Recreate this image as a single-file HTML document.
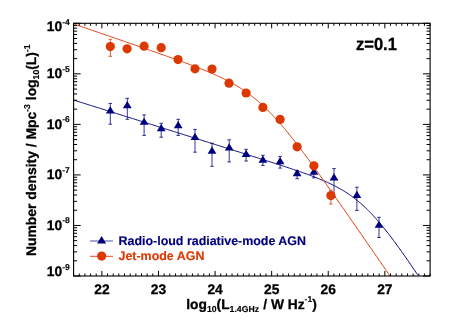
<!DOCTYPE html>
<html><head><meta charset="utf-8"><title>plot</title><style>html,body{margin:0;padding:0;background:#fff}svg text{stroke-width:0.3px;stroke-linejoin:round}svg text.k{stroke:#000}svg text.b{stroke:#00007f;stroke-width:.15px}svg text.o{stroke:#dc3802;stroke-width:.15px}svg text tspan[font-size]{stroke-width:.15px}body{width:452px;height:323px;overflow:hidden}</style></head><body>
<div style="will-change:transform;width:452px;height:323px">
<svg width="452" height="323" viewBox="0 0 452 323" style="display:block;font-family:'Liberation Sans',sans-serif;font-weight:bold;text-rendering:geometricPrecision">
<clipPath id="c"><rect x="73.60" y="23.30" width="356.50" height="252.70"/></clipPath>
<g clip-path="url(#c)">
<polyline fill="none" stroke="#00007f" stroke-width="1" points="73.60,100.05 74.49,100.33 75.39,100.61 76.28,100.89 77.17,101.17 78.07,101.45 78.96,101.73 79.85,102.02 80.75,102.30 81.64,102.58 82.53,102.86 83.43,103.14 84.32,103.42 85.22,103.70 86.11,103.98 87.00,104.26 87.90,104.54 88.79,104.82 89.68,105.10 90.58,105.38 91.47,105.66 92.36,105.94 93.26,106.22 94.15,106.50 95.04,106.78 95.94,107.06 96.83,107.34 97.72,107.62 98.62,107.90 99.51,108.18 100.40,108.47 101.30,108.75 102.19,109.03 103.08,109.31 103.98,109.59 104.87,109.87 105.77,110.15 106.66,110.43 107.55,110.71 108.45,110.99 109.34,111.27 110.23,111.55 111.13,111.83 112.02,112.11 112.91,112.39 113.81,112.67 114.70,112.95 115.59,113.23 116.49,113.51 117.38,113.79 118.27,114.07 119.17,114.35 120.06,114.63 120.95,114.92 121.85,115.20 122.74,115.48 123.64,115.76 124.53,116.04 125.42,116.32 126.32,116.60 127.21,116.88 128.10,117.16 129.00,117.44 129.89,117.72 130.78,118.00 131.68,118.28 132.57,118.56 133.46,118.84 134.36,119.12 135.25,119.40 136.14,119.68 137.04,119.96 137.93,120.24 138.82,120.52 139.72,120.80 140.61,121.08 141.50,121.36 142.40,121.65 143.29,121.93 144.19,122.21 145.08,122.49 145.97,122.77 146.87,123.05 147.76,123.33 148.65,123.61 149.55,123.89 150.44,124.17 151.33,124.45 152.23,124.73 153.12,125.01 154.01,125.29 154.91,125.57 155.80,125.85 156.69,126.13 157.59,126.41 158.48,126.69 159.37,126.97 160.27,127.25 161.16,127.53 162.05,127.82 162.95,128.10 163.84,128.38 164.74,128.66 165.63,128.94 166.52,129.22 167.42,129.50 168.31,129.78 169.20,130.06 170.10,130.34 170.99,130.62 171.88,130.90 172.78,131.18 173.67,131.46 174.56,131.74 175.46,132.02 176.35,132.30 177.24,132.58 178.14,132.86 179.03,133.14 179.92,133.42 180.82,133.70 181.71,133.99 182.61,134.27 183.50,134.55 184.39,134.83 185.29,135.11 186.18,135.39 187.07,135.67 187.97,135.95 188.86,136.23 189.75,136.51 190.65,136.79 191.54,137.07 192.43,137.35 193.33,137.63 194.22,137.91 195.11,138.19 196.01,138.47 196.90,138.75 197.79,139.03 198.69,139.31 199.58,139.60 200.47,139.88 201.37,140.16 202.26,140.44 203.16,140.72 204.05,141.00 204.94,141.28 205.84,141.56 206.73,141.84 207.62,142.12 208.52,142.40 209.41,142.68 210.30,142.96 211.20,143.24 212.09,143.52 212.98,143.80 213.88,144.08 214.77,144.37 215.66,144.65 216.56,144.93 217.45,145.21 218.34,145.49 219.24,145.77 220.13,146.05 221.02,146.33 221.92,146.61 222.81,146.89 223.71,147.17 224.60,147.45 225.49,147.73 226.39,148.02 227.28,148.30 228.17,148.58 229.07,148.86 229.96,149.14 230.85,149.42 231.75,149.70 232.64,149.98 233.53,150.26 234.43,150.55 235.32,150.83 236.21,151.11 237.11,151.39 238.00,151.67 238.89,151.95 239.79,152.23 240.68,152.51 241.57,152.80 242.47,153.08 243.36,153.36 244.26,153.64 245.15,153.92 246.04,154.21 246.94,154.49 247.83,154.77 248.72,155.05 249.62,155.33 250.51,155.62 251.40,155.90 252.30,156.18 253.19,156.46 254.08,156.75 254.98,157.03 255.87,157.31 256.76,157.59 257.66,157.88 258.55,158.16 259.44,158.44 260.34,158.73 261.23,159.01 262.13,159.30 263.02,159.58 263.91,159.86 264.81,160.15 265.70,160.43 266.59,160.72 267.49,161.00 268.38,161.29 269.27,161.58 270.17,161.86 271.06,162.15 271.95,162.43 272.85,162.72 273.74,163.01 274.63,163.30 275.53,163.58 276.42,163.87 277.31,164.16 278.21,164.45 279.10,164.74 279.99,165.03 280.89,165.32 281.78,165.61 282.68,165.90 283.57,166.19 284.46,166.49 285.36,166.78 286.25,167.07 287.14,167.37 288.04,167.66 288.93,167.96 289.82,168.26 290.72,168.55 291.61,168.85 292.50,169.15 293.40,169.45 294.29,169.76 295.18,170.06 296.08,170.36 296.97,170.67 297.86,170.97 298.76,171.28 299.65,171.59 300.54,171.90 301.44,172.21 302.33,172.52 303.23,172.84 304.12,173.15 305.01,173.47 305.91,173.79 306.80,174.11 307.69,174.44 308.59,174.76 309.48,175.09 310.37,175.42 311.27,175.76 312.16,176.09 313.05,176.43 313.95,176.77 314.84,177.12 315.73,177.47 316.63,177.82 317.52,178.17 318.41,178.53 319.31,178.89 320.20,179.25 321.09,179.62 321.99,180.00 322.88,180.37 323.78,180.75 324.67,181.14 325.56,181.53 326.46,181.93 327.35,182.33 328.24,182.74 329.14,183.15 330.03,183.57 330.92,184.00 331.82,184.43 332.71,184.87 333.60,185.31 334.50,185.76 335.39,186.22 336.28,186.69 337.18,187.17 338.07,187.65 338.96,188.14 339.86,188.64 340.75,189.15 341.65,189.67 342.54,190.20 343.43,190.74 344.33,191.28 345.22,191.84 346.11,192.41 347.01,192.99 347.90,193.58 348.79,194.18 349.69,194.79 350.58,195.42 351.47,196.05 352.37,196.70 353.26,197.36 354.15,198.04 355.05,198.72 355.94,199.42 356.83,200.13 357.73,200.86 358.62,201.60 359.51,202.35 360.41,203.12 361.30,203.89 362.20,204.69 363.09,205.49 363.98,206.31 364.88,207.15 365.77,207.99 366.66,208.85 367.56,209.73 368.45,210.62 369.34,211.52 370.24,212.43 371.13,213.36 372.02,214.31 372.92,215.26 373.81,216.23 374.70,217.21 375.60,218.20 376.49,219.21 377.38,220.22 378.28,221.25 379.17,222.30 380.06,223.35 380.96,224.41 381.85,225.49 382.75,226.57 383.64,227.67 384.53,228.78 385.43,229.90 386.32,231.02 387.21,232.16 388.11,233.30 389.00,234.46 389.89,235.62 390.79,236.80 391.68,237.98 392.57,239.16 393.47,240.36 394.36,241.56 395.25,242.77 396.15,243.99 397.04,245.22 397.93,246.45 398.83,247.68 399.72,248.93 400.62,250.18 401.51,251.43 402.40,252.69 403.30,253.95 404.19,255.22 405.08,256.50 405.98,257.78 406.87,259.06 407.76,260.35 408.66,261.64 409.55,262.94 410.44,264.24 411.34,265.54 412.23,266.85 413.12,268.16 414.02,269.47 414.91,270.79 415.80,272.10 416.70,273.43 417.59,274.75"/>
<polyline fill="none" stroke="#dc3802" stroke-width="1" points="73.60,23.87 74.49,24.17 75.39,24.48 76.28,24.79 77.17,25.10 78.07,25.41 78.96,25.72 79.85,26.02 80.75,26.33 81.64,26.64 82.53,26.95 83.43,27.26 84.32,27.56 85.22,27.87 86.11,28.18 87.00,28.49 87.90,28.80 88.79,29.11 89.68,29.41 90.58,29.72 91.47,30.03 92.36,30.34 93.26,30.65 94.15,30.96 95.04,31.26 95.94,31.57 96.83,31.88 97.72,32.19 98.62,32.50 99.51,32.81 100.40,33.11 101.30,33.42 102.19,33.73 103.08,34.04 103.98,34.35 104.87,34.66 105.77,34.97 106.66,35.27 107.55,35.58 108.45,35.89 109.34,36.20 110.23,36.51 111.13,36.82 112.02,37.13 112.91,37.43 113.81,37.74 114.70,38.05 115.59,38.36 116.49,38.67 117.38,38.98 118.27,39.29 119.17,39.60 120.06,39.90 120.95,40.21 121.85,40.52 122.74,40.83 123.64,41.14 124.53,41.45 125.42,41.76 126.32,42.07 127.21,42.38 128.10,42.69 129.00,43.00 129.89,43.31 130.78,43.62 131.68,43.92 132.57,44.23 133.46,44.54 134.36,44.85 135.25,45.16 136.14,45.47 137.04,45.78 137.93,46.09 138.82,46.40 139.72,46.71 140.61,47.02 141.50,47.33 142.40,47.65 143.29,47.96 144.19,48.27 145.08,48.58 145.97,48.89 146.87,49.20 147.76,49.51 148.65,49.82 149.55,50.13 150.44,50.45 151.33,50.76 152.23,51.07 153.12,51.38 154.01,51.70 154.91,52.01 155.80,52.32 156.69,52.63 157.59,52.95 158.48,53.26 159.37,53.58 160.27,53.89 161.16,54.20 162.05,54.52 162.95,54.83 163.84,55.15 164.74,55.47 165.63,55.78 166.52,56.10 167.42,56.41 168.31,56.73 169.20,57.05 170.10,57.37 170.99,57.69 171.88,58.00 172.78,58.32 173.67,58.64 174.56,58.96 175.46,59.29 176.35,59.61 177.24,59.93 178.14,60.25 179.03,60.58 179.92,60.90 180.82,61.23 181.71,61.55 182.61,61.88 183.50,62.21 184.39,62.53 185.29,62.86 186.18,63.19 187.07,63.52 187.97,63.86 188.86,64.19 189.75,64.52 190.65,64.86 191.54,65.20 192.43,65.53 193.33,65.87 194.22,66.21 195.11,66.56 196.01,66.90 196.90,67.25 197.79,67.59 198.69,67.94 199.58,68.29 200.47,68.64 201.37,69.00 202.26,69.35 203.16,69.71 204.05,70.07 204.94,70.44 205.84,70.80 206.73,71.17 207.62,71.54 208.52,71.91 209.41,72.29 210.30,72.67 211.20,73.05 212.09,73.43 212.98,73.82 213.88,74.21 214.77,74.61 215.66,75.01 216.56,75.41 217.45,75.81 218.34,76.22 219.24,76.64 220.13,77.06 221.02,77.48 221.92,77.91 222.81,78.34 223.71,78.78 224.60,79.22 225.49,79.67 226.39,80.12 227.28,80.58 228.17,81.05 229.07,81.52 229.96,82.00 230.85,82.48 231.75,82.97 232.64,83.47 233.53,83.97 234.43,84.49 235.32,85.01 236.21,85.53 237.11,86.07 238.00,86.61 238.89,87.16 239.79,87.72 240.68,88.28 241.57,88.86 242.47,89.44 243.36,90.04 244.26,90.64 245.15,91.25 246.04,91.88 246.94,92.51 247.83,93.15 248.72,93.80 249.62,94.46 250.51,95.13 251.40,95.82 252.30,96.51 253.19,97.21 254.08,97.93 254.98,98.65 255.87,99.39 256.76,100.14 257.66,100.89 258.55,101.66 259.44,102.44 260.34,103.23 261.23,104.04 262.13,104.85 263.02,105.67 263.91,106.51 264.81,107.36 265.70,108.21 266.59,109.08 267.49,109.96 268.38,110.85 269.27,111.75 270.17,112.67 271.06,113.59 271.95,114.52 272.85,115.46 273.74,116.42 274.63,117.38 275.53,118.35 276.42,119.34 277.31,120.33 278.21,121.33 279.10,122.34 279.99,123.36 280.89,124.39 281.78,125.43 282.68,126.47 283.57,127.53 284.46,128.59 285.36,129.66 286.25,130.74 287.14,131.82 288.04,132.92 288.93,134.02 289.82,135.13 290.72,136.24 291.61,137.36 292.50,138.49 293.40,139.62 294.29,140.76 295.18,141.90 296.08,143.06 296.97,144.21 297.86,145.37 298.76,146.54 299.65,147.71 300.54,148.89 301.44,150.07 302.33,151.26 303.23,152.45 304.12,153.64 305.01,154.84 305.91,156.04 306.80,157.25 307.69,158.46 308.59,159.67 309.48,160.89 310.37,162.11 311.27,163.33 312.16,164.56 313.05,165.78 313.95,167.02 314.84,168.25 315.73,169.49 316.63,170.73 317.52,171.97 318.41,173.21 319.31,174.46 320.20,175.71 321.09,176.96 321.99,178.21 322.88,179.46 323.78,180.72 324.67,181.98 325.56,183.23 326.46,184.50 327.35,185.76 328.24,187.02 329.14,188.29 330.03,189.55 330.92,190.82 331.82,192.09 332.71,193.36 333.60,194.63 334.50,195.90 335.39,197.18 336.28,198.45 337.18,199.73 338.07,201.00 338.96,202.28 339.86,203.56 340.75,204.84 341.65,206.12 342.54,207.40 343.43,208.68 344.33,209.96 345.22,211.24 346.11,212.52 347.01,213.81 347.90,215.09 348.79,216.38 349.69,217.66 350.58,218.95 351.47,220.23 352.37,221.52 353.26,222.81 354.15,224.09 355.05,225.38 355.94,226.67 356.83,227.96 357.73,229.25 358.62,230.54 359.51,231.82 360.41,233.11 361.30,234.40 362.20,235.69 363.09,236.99 363.98,238.28 364.88,239.57 365.77,240.86 366.66,242.15 367.56,243.44 368.45,244.73 369.34,246.03 370.24,247.32 371.13,248.61 372.02,249.90 372.92,251.20 373.81,252.49 374.70,253.78 375.60,255.08 376.49,256.37 377.38,257.66 378.28,258.96 379.17,260.25 380.06,261.54 380.96,262.84 381.85,264.13 382.75,265.43 383.64,266.72 384.53,268.01 385.43,269.31 386.32,270.60 387.21,271.90 388.11,273.19 389.00,274.49 389.89,275.78"/>
</g>
<path d="M110.30 103.40V124.20M108.50 103.40h3.6M108.50 124.20h3.6" stroke="#00007f" stroke-width="0.8" fill="none"/>
<path d="M110.30 106.30L114.70 113.50L105.90 113.50Z" fill="#00007f"/>
<path d="M127.30 98.30V119.30M125.50 98.30h3.6M125.50 119.30h3.6" stroke="#00007f" stroke-width="0.8" fill="none"/>
<path d="M127.30 101.10L131.70 108.30L122.90 108.30Z" fill="#00007f"/>
<path d="M144.10 114.90V135.40M142.30 114.90h3.6M142.30 135.40h3.6" stroke="#00007f" stroke-width="0.8" fill="none"/>
<path d="M144.10 117.65L148.50 124.85L139.70 124.85Z" fill="#00007f"/>
<path d="M161.20 123.30V137.20M159.40 123.30h3.6M159.40 137.20h3.6" stroke="#00007f" stroke-width="0.8" fill="none"/>
<path d="M161.20 124.00L165.60 131.20L156.80 131.20Z" fill="#00007f"/>
<path d="M178.20 119.30V135.40M176.40 119.30h3.6M176.40 135.40h3.6" stroke="#00007f" stroke-width="0.8" fill="none"/>
<path d="M178.20 121.00L182.60 128.20L173.80 128.20Z" fill="#00007f"/>
<path d="M195.00 129.40V152.20M193.20 129.40h3.6M193.20 152.20h3.6" stroke="#00007f" stroke-width="0.8" fill="none"/>
<path d="M195.00 132.85L199.40 140.05L190.60 140.05Z" fill="#00007f"/>
<path d="M212.00 143.30V166.30M210.20 143.30h3.6M210.20 166.30h3.6" stroke="#00007f" stroke-width="0.8" fill="none"/>
<path d="M212.00 146.55L216.40 153.75L207.60 153.75Z" fill="#00007f"/>
<path d="M229.20 139.80V161.90M227.40 139.80h3.6M227.40 161.90h3.6" stroke="#00007f" stroke-width="0.8" fill="none"/>
<path d="M229.20 143.25L233.60 150.45L224.80 150.45Z" fill="#00007f"/>
<path d="M246.10 149.30V161.00M244.30 149.30h3.6M244.30 161.00h3.6" stroke="#00007f" stroke-width="0.8" fill="none"/>
<path d="M246.10 149.70L250.50 156.90L241.70 156.90Z" fill="#00007f"/>
<path d="M262.90 155.30V165.40M261.10 155.30h3.6M261.10 165.40h3.6" stroke="#00007f" stroke-width="0.8" fill="none"/>
<path d="M262.90 155.45L267.30 162.65L258.50 162.65Z" fill="#00007f"/>
<path d="M280.10 156.40V168.10M278.30 156.40h3.6M278.30 168.10h3.6" stroke="#00007f" stroke-width="0.8" fill="none"/>
<path d="M280.10 156.95L284.50 164.15L275.70 164.15Z" fill="#00007f"/>
<path d="M297.10 170.50V178.70M295.30 170.50h3.6M295.30 178.70h3.6" stroke="#00007f" stroke-width="0.8" fill="none"/>
<path d="M297.10 169.05L301.50 176.25L292.70 176.25Z" fill="#00007f"/>
<path d="M313.90 168.50V177.90M312.10 168.50h3.6M312.10 177.90h3.6" stroke="#00007f" stroke-width="0.8" fill="none"/>
<path d="M313.90 167.45L318.30 174.65L309.50 174.65Z" fill="#00007f"/>
<path d="M334.00 168.60V197.00M332.20 168.60h3.6M332.20 197.00h3.6" stroke="#00007f" stroke-width="0.8" fill="none"/>
<path d="M334.00 173.30L338.40 180.50L329.60 180.50Z" fill="#00007f"/>
<path d="M356.90 187.20V210.40M355.10 187.20h3.6M355.10 210.40h3.6" stroke="#00007f" stroke-width="0.8" fill="none"/>
<path d="M356.90 190.70L361.30 197.90L352.50 197.90Z" fill="#00007f"/>
<path d="M379.00 217.30V237.50M377.20 217.30h3.6M377.20 237.50h3.6" stroke="#00007f" stroke-width="0.8" fill="none"/>
<path d="M379.00 220.65L383.40 227.85L374.60 227.85Z" fill="#00007f"/>
<path d="M110.30 39.30V56.30M108.50 39.30h3.6M108.50 56.30h3.6" stroke="#dc3802" stroke-width="0.8" fill="none"/>
<circle cx="110.30" cy="46.60" r="4.6" fill="#dc3802"/>
<circle cx="127.10" cy="48.80" r="4.6" fill="#dc3802"/>
<circle cx="144.10" cy="46.20" r="4.6" fill="#dc3802"/>
<circle cx="161.20" cy="47.70" r="4.6" fill="#dc3802"/>
<circle cx="178.00" cy="59.60" r="4.6" fill="#dc3802"/>
<circle cx="195.00" cy="68.80" r="4.6" fill="#dc3802"/>
<circle cx="212.00" cy="69.00" r="4.6" fill="#dc3802"/>
<circle cx="229.00" cy="83.20" r="4.6" fill="#dc3802"/>
<circle cx="246.10" cy="93.00" r="4.6" fill="#dc3802"/>
<circle cx="262.90" cy="107.40" r="4.6" fill="#dc3802"/>
<circle cx="280.10" cy="119.40" r="4.6" fill="#dc3802"/>
<circle cx="297.10" cy="146.80" r="4.6" fill="#dc3802"/>
<circle cx="313.90" cy="165.80" r="4.6" fill="#dc3802"/>
<path d="M330.90 190.20V204.00M329.10 190.20h3.6M329.10 204.00h3.6" stroke="#dc3802" stroke-width="0.8" fill="none"/>
<circle cx="330.90" cy="195.60" r="4.6" fill="#dc3802"/>
<path d="M73.60 276.00v-2.50M73.60 23.30v2.50M79.26 276.00v-2.50M79.26 23.30v2.50M84.92 276.00v-2.50M84.92 23.30v2.50M90.58 276.00v-2.50M90.58 23.30v2.50M96.23 276.00v-2.50M96.23 23.30v2.50M101.89 276.00v-5.05M101.89 23.30v5.05M107.55 276.00v-2.50M107.55 23.30v2.50M113.21 276.00v-2.50M113.21 23.30v2.50M118.87 276.00v-2.50M118.87 23.30v2.50M124.53 276.00v-2.50M124.53 23.30v2.50M130.19 276.00v-2.50M130.19 23.30v2.50M135.85 276.00v-2.50M135.85 23.30v2.50M141.50 276.00v-2.50M141.50 23.30v2.50M147.16 276.00v-2.50M147.16 23.30v2.50M152.82 276.00v-2.50M152.82 23.30v2.50M158.48 276.00v-5.05M158.48 23.30v5.05M164.14 276.00v-2.50M164.14 23.30v2.50M169.80 276.00v-2.50M169.80 23.30v2.50M175.46 276.00v-2.50M175.46 23.30v2.50M181.12 276.00v-2.50M181.12 23.30v2.50M186.77 276.00v-2.50M186.77 23.30v2.50M192.43 276.00v-2.50M192.43 23.30v2.50M198.09 276.00v-2.50M198.09 23.30v2.50M203.75 276.00v-2.50M203.75 23.30v2.50M209.41 276.00v-2.50M209.41 23.30v2.50M215.07 276.00v-5.05M215.07 23.30v5.05M220.73 276.00v-2.50M220.73 23.30v2.50M226.39 276.00v-2.50M226.39 23.30v2.50M232.04 276.00v-2.50M232.04 23.30v2.50M237.70 276.00v-2.50M237.70 23.30v2.50M243.36 276.00v-2.50M243.36 23.30v2.50M249.02 276.00v-2.50M249.02 23.30v2.50M254.68 276.00v-2.50M254.68 23.30v2.50M260.34 276.00v-2.50M260.34 23.30v2.50M266.00 276.00v-2.50M266.00 23.30v2.50M271.66 276.00v-5.05M271.66 23.30v5.05M277.31 276.00v-2.50M277.31 23.30v2.50M282.97 276.00v-2.50M282.97 23.30v2.50M288.63 276.00v-2.50M288.63 23.30v2.50M294.29 276.00v-2.50M294.29 23.30v2.50M299.95 276.00v-2.50M299.95 23.30v2.50M305.61 276.00v-2.50M305.61 23.30v2.50M311.27 276.00v-2.50M311.27 23.30v2.50M316.93 276.00v-2.50M316.93 23.30v2.50M322.58 276.00v-2.50M322.58 23.30v2.50M328.24 276.00v-5.05M328.24 23.30v5.05M333.90 276.00v-2.50M333.90 23.30v2.50M339.56 276.00v-2.50M339.56 23.30v2.50M345.22 276.00v-2.50M345.22 23.30v2.50M350.88 276.00v-2.50M350.88 23.30v2.50M356.54 276.00v-2.50M356.54 23.30v2.50M362.20 276.00v-2.50M362.20 23.30v2.50M367.85 276.00v-2.50M367.85 23.30v2.50M373.51 276.00v-2.50M373.51 23.30v2.50M379.17 276.00v-2.50M379.17 23.30v2.50M384.83 276.00v-5.05M384.83 23.30v5.05M390.49 276.00v-2.50M390.49 23.30v2.50M396.15 276.00v-2.50M396.15 23.30v2.50M401.81 276.00v-2.50M401.81 23.30v2.50M407.47 276.00v-2.50M407.47 23.30v2.50M413.12 276.00v-2.50M413.12 23.30v2.50M418.78 276.00v-2.50M418.78 23.30v2.50M424.44 276.00v-2.50M424.44 23.30v2.50M430.10 276.00v-2.50M430.10 23.30v2.50M73.60 276.00h7.10M430.10 276.00h-7.10M73.60 260.79h3.55M430.10 260.79h-3.55M73.60 251.89h3.55M430.10 251.89h-3.55M73.60 245.57h3.55M430.10 245.57h-3.55M73.60 240.67h3.55M430.10 240.67h-3.55M73.60 236.67h3.55M430.10 236.67h-3.55M73.60 233.29h3.55M430.10 233.29h-3.55M73.60 230.36h3.55M430.10 230.36h-3.55M73.60 227.77h3.55M430.10 227.77h-3.55M73.60 225.46h7.10M430.10 225.46h-7.10M73.60 210.25h3.55M430.10 210.25h-3.55M73.60 201.35h3.55M430.10 201.35h-3.55M73.60 195.03h3.55M430.10 195.03h-3.55M73.60 190.13h3.55M430.10 190.13h-3.55M73.60 186.13h3.55M430.10 186.13h-3.55M73.60 182.75h3.55M430.10 182.75h-3.55M73.60 179.82h3.55M430.10 179.82h-3.55M73.60 177.23h3.55M430.10 177.23h-3.55M73.60 174.92h7.10M430.10 174.92h-7.10M73.60 159.71h3.55M430.10 159.71h-3.55M73.60 150.81h3.55M430.10 150.81h-3.55M73.60 144.49h3.55M430.10 144.49h-3.55M73.60 139.59h3.55M430.10 139.59h-3.55M73.60 135.59h3.55M430.10 135.59h-3.55M73.60 132.21h3.55M430.10 132.21h-3.55M73.60 129.28h3.55M430.10 129.28h-3.55M73.60 126.69h3.55M430.10 126.69h-3.55M73.60 124.38h7.10M430.10 124.38h-7.10M73.60 109.17h3.55M430.10 109.17h-3.55M73.60 100.27h3.55M430.10 100.27h-3.55M73.60 93.95h3.55M430.10 93.95h-3.55M73.60 89.05h3.55M430.10 89.05h-3.55M73.60 85.05h3.55M430.10 85.05h-3.55M73.60 81.67h3.55M430.10 81.67h-3.55M73.60 78.74h3.55M430.10 78.74h-3.55M73.60 76.15h3.55M430.10 76.15h-3.55M73.60 73.84h7.10M430.10 73.84h-7.10M73.60 58.63h3.55M430.10 58.63h-3.55M73.60 49.73h3.55M430.10 49.73h-3.55M73.60 43.41h3.55M430.10 43.41h-3.55M73.60 38.51h3.55M430.10 38.51h-3.55M73.60 34.51h3.55M430.10 34.51h-3.55M73.60 31.13h3.55M430.10 31.13h-3.55M73.60 28.20h3.55M430.10 28.20h-3.55M73.60 25.61h3.55M430.10 25.61h-3.55M73.60 23.30h7.10M430.10 23.30h-7.10" stroke="#000" stroke-width="1" fill="none"/>
<rect x="73.60" y="23.30" width="356.50" height="252.70" fill="none" stroke="#000" stroke-width="1.1"/>
<text class="k" x="101.89" y="294.0" font-size="13.8" text-anchor="middle">22</text>
<text class="k" x="158.48" y="294.0" font-size="13.8" text-anchor="middle">23</text>
<text class="k" x="215.07" y="294.0" font-size="13.8" text-anchor="middle">24</text>
<text class="k" x="271.66" y="294.0" font-size="13.8" text-anchor="middle">25</text>
<text class="k" x="328.24" y="294.0" font-size="13.8" text-anchor="middle">26</text>
<text class="k" x="384.83" y="294.0" font-size="13.8" text-anchor="middle">27</text>
<text class="k" x="46.8" y="276.00" font-size="13.8">10<tspan font-size="8.56" dy="-6.5">-9</tspan></text>
<text class="k" x="46.8" y="229.86" font-size="13.8">10<tspan font-size="8.56" dy="-6.5">-8</tspan></text>
<text class="k" x="46.8" y="179.32" font-size="13.8">10<tspan font-size="8.56" dy="-6.5">-7</tspan></text>
<text class="k" x="46.8" y="128.78" font-size="13.8">10<tspan font-size="8.56" dy="-6.5">-6</tspan></text>
<text class="k" x="46.8" y="78.24" font-size="13.8">10<tspan font-size="8.56" dy="-6.5">-5</tspan></text>
<text class="k" x="46.8" y="31.00" font-size="13.8">10<tspan font-size="8.56" dy="-6.5">-4</tspan></text>
<text class="k" transform="translate(356.0 50.1) scale(1 1.07)" font-size="16.55">z=0.1</text>
<path d="M90 241H113" stroke="#00007f" stroke-width="0.7"/>
<path d="M101.6 235.9L106.1 243.4L97.1 243.4Z" fill="#00007f"/>
<path d="M90 256.3H113" stroke="#dc3802" stroke-width="0.9"/>
<circle cx="101.65" cy="256.1" r="4.6" fill="#dc3802"/>
<text class="b" id="lg1" x="118.5" y="244.5" font-size="12.45" fill="#00007f">Radio-loud radiative-mode AGN</text>
<text class="o" id="lg2" x="118.5" y="260.0" font-size="12.45" fill="#dc3802">Jet-mode AGN</text>
<text class="k" id="xl" y="308.6" font-size="13.8"><tspan x="186.2">log</tspan><tspan font-size="8.7" dy="2.9">10</tspan><tspan dy="-2.9">(L</tspan><tspan font-size="8.7" dy="3.6">1.4GHz</tspan><tspan dy="-3.6" x="259.4"> / W Hz</tspan><tspan font-size="8.56" dy="-6.6">-1</tspan><tspan dy="6.6">)</tspan></text>
<text class="k" id="yl" transform="translate(35.9 256.1) rotate(-90)" font-size="13.9">Number density / Mpc<tspan font-size="8.65" dy="-6.4">-3</tspan><tspan dy="6.4"> log</tspan><tspan font-size="8.65" dy="3.0">10</tspan><tspan dy="-3.0">(L)</tspan><tspan font-size="8.65" dy="-6.4">-1</tspan></text>
</svg>
</div>
</body></html>
